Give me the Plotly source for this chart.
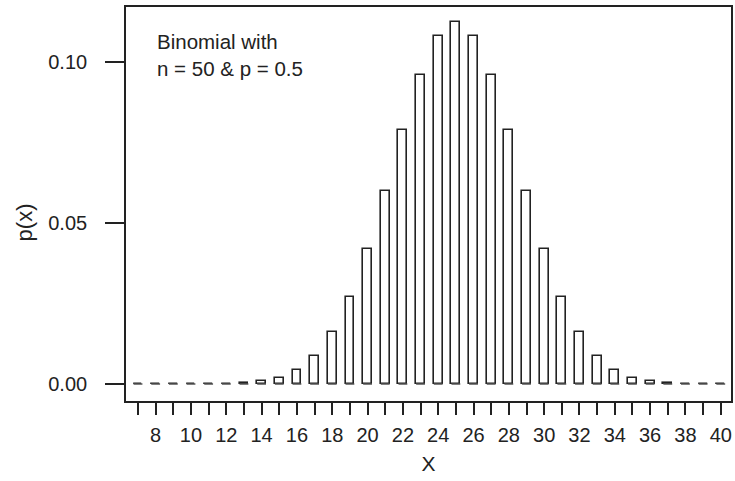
import plotly.graph_objects as go

x_vals = list(range(7, 41))
p_vals = [0.0000, 0.0000, 0.0000, 0.0000, 0.0000, 0.0001, 0.0003, 0.0008,
          0.0020, 0.0044, 0.0087, 0.0160, 0.0270, 0.0419, 0.0598, 0.0788,
          0.0960, 0.1080, 0.1123, 0.1080, 0.0960, 0.0788, 0.0598, 0.0419,
          0.0270, 0.0160, 0.0087, 0.0044, 0.0020, 0.0008, 0.0003, 0.0001,
          0.0000, 0.0000]
x_tickvals = list(range(7, 41))
x_ticktext = [str(v) if v % 2 == 0 else "" for v in x_tickvals]
y_tickvals = [0.00, 0.05, 0.10]
y_ticktext = ["0.00", "0.05", "0.10"]

ink = "#222222"
font = "Liberation Sans, Arial, sans-serif"

fig = go.Figure()
fig.add_trace(go.Bar(
    x=x_vals, y=p_vals, width=0.5,
    marker=dict(color="white", line=dict(color=ink, width=1.6)),
))
# flat "zero" bars drawn as short dashes at the bar positions
xs, ys = [], []
for v in x_vals:
    xs += [v - 0.25, v + 0.25, None]
    ys += [0, 0, None]
fig.add_trace(go.Scatter(
    x=xs, y=ys, mode="lines", line=dict(color="#555", width=1.5),
    hoverinfo="skip", connectgaps=False,
))

fig.update_layout(
    width=735, height=481,
    margin=dict(l=126, r=2, t=7, b=80),
    paper_bgcolor="white", plot_bgcolor="white",
    showlegend=False,
    font=dict(family=font, size=20, color=ink),
    bargap=0,
)
fig.update_xaxes(
    range=[6.32, 40.58], tickvals=x_tickvals, ticktext=x_ticktext,
    ticks="outside", ticklen=12, tickwidth=1.6, tickcolor=ink,
    showline=True, linecolor=ink, linewidth=1.6, mirror=True,
    showgrid=False, zeroline=False, tickfont=dict(size=20),
    ticklabelstandoff=3,
    title=dict(text="X", font=dict(size=21), standoff=12),
)
fig.update_yaxes(
    range=[-0.00528, 0.1171], tickvals=y_tickvals, ticktext=y_ticktext,
    ticks="outside", ticklen=19, tickwidth=1.6, tickcolor=ink,
    showline=True, linecolor=ink, linewidth=1.6, mirror=True,
    showgrid=False, zeroline=False, tickfont=dict(size=20),
    ticklabelstandoff=14,
)
fig.add_annotation(
    text="p(x)", textangle=-90, xref="paper", yref="y",
    x=(24 - 126) / 607, y=0.0503, xanchor="center", yanchor="middle",
    showarrow=False, font=dict(size=22),
)
fig.add_annotation(
    text="Binomial with<br>n = 50 & p = 0.5", xref="paper", yref="paper",
    x=(155 - 126) / 607, y=(401 - 28) / 394, xanchor="left", yanchor="top",
    align="left", showarrow=False, font=dict(size=20.5),
)
fig.write_html("out.html")
